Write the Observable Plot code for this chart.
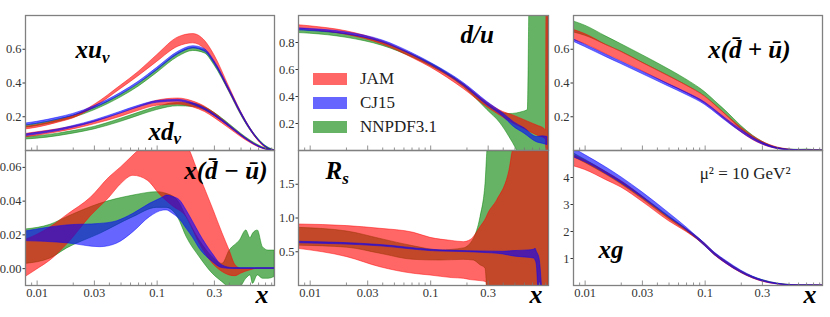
<!DOCTYPE html>
<html><head><meta charset="utf-8">
<script src="https://cdn.jsdelivr.net/npm/d3@7"></script>
<script src="https://cdn.jsdelivr.net/npm/@observablehq/plot@0.6"></script>
<style>
body{margin:0;background:#fff;}
#fig{position:relative;width:830px;height:317px;overflow:hidden;font-family:"Liberation Serif",serif;}
#fig svg{position:absolute;overflow:visible;}
.legend{position:absolute;left:313px;top:67px;font-family:"Liberation Serif",serif;font-size:17px;color:#222;}
.legend div{height:24px;display:flex;align-items:center;}
.legend span.sw{display:inline-block;width:34px;height:12px;margin-right:13px;}
</style></head><body><div id="fig"></div>
<script>
// ---------- shared axes ----------
const xDomain = [0.008, 0.95];
const xTickVals = [0.01, 0.03, 0.1, 0.3];
const xMinorVals = [0.008, 0.009, 0.02, 0.04, 0.05, 0.06, 0.07, 0.08, 0.09, 0.2, 0.4, 0.5, 0.6, 0.7, 0.8, 0.9];
const seriesNames = ["JAM", "CJ15", "NNPDF3.1"];
const seriesColors = ["#ff0000", "#0000ff", "#008000"];

// ---------- xu_v  [x, lo, hi] ----------
const jamUv = [[0.008,0.125,0.14],[0.01,0.135,0.15],[0.015,0.165,0.178],[0.02,0.19,0.203],[0.03,0.255,0.27],[0.05,0.365,0.385],[0.07,0.44,0.465],[0.1,0.525,0.565],[0.15,0.615,0.67],[0.2,0.635,0.69],[0.25,0.6,0.65],[0.3,0.525,0.565],[0.4,0.35,0.375],[0.5,0.215,0.23],[0.6,0.12,0.13],[0.7,0.055,0.062],[0.8,0.016,0.022],[0.9,0.002,0.004],[0.95,0,0.001]];
const cjUv = [[0.008,0.148,0.16],[0.01,0.158,0.17],[0.015,0.183,0.195],[0.02,0.205,0.217],[0.03,0.25,0.262],[0.05,0.33,0.342],[0.07,0.395,0.407],[0.1,0.475,0.49],[0.15,0.57,0.585],[0.2,0.605,0.618],[0.25,0.585,0.6],[0.3,0.515,0.53],[0.4,0.35,0.365],[0.5,0.215,0.228],[0.6,0.12,0.13],[0.7,0.058,0.065],[0.8,0.02,0.025],[0.9,0.003,0.005],[0.95,0,0.001]];
const nnUv = [[0.008,0.135,0.148],[0.01,0.145,0.158],[0.015,0.17,0.183],[0.02,0.193,0.206],[0.03,0.238,0.252],[0.05,0.315,0.33],[0.07,0.378,0.394],[0.1,0.46,0.478],[0.15,0.555,0.575],[0.2,0.59,0.608],[0.25,0.575,0.592],[0.3,0.505,0.522],[0.4,0.345,0.36],[0.5,0.21,0.225],[0.6,0.118,0.13],[0.7,0.058,0.068],[0.8,0.021,0.028],[0.9,0.004,0.008],[0.95,0,0.002]];
// ---------- xd_v ----------
const jamDv = [[0.008,0.078,0.098],[0.01,0.088,0.108],[0.015,0.108,0.126],[0.02,0.125,0.142],[0.03,0.155,0.172],[0.05,0.2,0.22],[0.07,0.235,0.258],[0.1,0.265,0.295],[0.15,0.272,0.308],[0.2,0.255,0.29],[0.25,0.228,0.26],[0.3,0.193,0.222],[0.4,0.13,0.15],[0.5,0.08,0.094],[0.6,0.044,0.053],[0.7,0.019,0.025],[0.8,0.005,0.008],[0.9,0,0.002],[0.95,0,0.001]];
const cjDv = [[0.008,0.085,0.095],[0.01,0.095,0.105],[0.015,0.115,0.125],[0.02,0.135,0.145],[0.03,0.168,0.178],[0.05,0.22,0.23],[0.07,0.255,0.265],[0.1,0.283,0.293],[0.15,0.29,0.3],[0.2,0.27,0.28],[0.25,0.24,0.25],[0.3,0.205,0.215],[0.4,0.14,0.15],[0.5,0.087,0.095],[0.6,0.048,0.054],[0.7,0.021,0.026],[0.8,0.006,0.009],[0.9,0,0.002],[0.95,0,0.001]];
const nnDv = [[0.008,0.065,0.08],[0.01,0.07,0.085],[0.015,0.085,0.1],[0.02,0.1,0.115],[0.03,0.125,0.14],[0.05,0.17,0.188],[0.07,0.205,0.223],[0.1,0.24,0.258],[0.15,0.262,0.282],[0.2,0.258,0.278],[0.25,0.237,0.256],[0.3,0.205,0.223],[0.4,0.142,0.156],[0.5,0.088,0.1],[0.6,0.05,0.059],[0.7,0.024,0.031],[0.8,0.008,0.013],[0.9,0.001,0.004],[0.95,0,0.001]];
// ---------- x(dbar - ubar) ----------
const jamDmU = [[0.008,-0.005,0.017],[0.01,-0.0005,0.02],[0.013,0.005,0.0246],[0.018,0.0147,0.032],[0.028,0.031,0.042],[0.04,0.042,0.054],[0.05,0.05,0.06],[0.0634,0.055,0.067],[0.084,0.052,0.075],[0.105,0.044,0.08],[0.135,0.037,0.082],[0.176,0.0305,0.074],[0.226,0.0147,0.055],[0.29,0.003,0.036],[0.35,-0.002,0.021],[0.4,-0.004,0.011],[0.45,-0.0045,0.002],[0.5,-0.003,0],[0.6,-0.001,0],[0.7,0,0],[0.95,0,0]];
const cjDmU = [[0.008,0.0163,0.022],[0.0178,0.015,0.0256],[0.0335,0.0127,0.0265],[0.046,0.0147,0.028],[0.0634,0.0216,0.0325],[0.087,0.0305,0.0384],[0.113,0.0344,0.0423],[0.12,0.0345,0.0433],[0.135,0.0325,0.0425],[0.155,0.029,0.0404],[0.176,0.0236,0.0344],[0.2,0.018,0.0275],[0.226,0.0118,0.0206],[0.29,0.004,0.0088],[0.35,0.0003,0.0019],[0.43,-0.0002,0.0003],[0.95,-0.0002,0.0003]];
const nnDmU = [[0.008,0.0028,0.0232],[0.0129,0.006,0.026],[0.0178,0.012,0.0305],[0.0335,0.0206,0.0384],[0.0634,0.0305,0.0433],[0.1,0.036,0.0453],[0.12,0.036,0.0443],[0.15,0.03,0.04],[0.176,0.0187,0.0305],[0.226,0.0068,0.0167],[0.29,-0.003,0.0068],[0.35,-0.008,0.0028],[0.402,-0.011,0.0107],[0.49,-0.011,0.0167],[0.553,-0.006,0.0226],[0.6,-0.004,0.018],[0.628,-0.009,0.0206],[0.69,-0.004,0.0226],[0.76,-0.006,0.0127],[0.85,-0.006,0.0107],[0.95,-0.005,0.0107]];
// ---------- d/u ----------
const jamDoU = [[0.008,0.9,0.928],[0.01,0.893,0.92],[0.02,0.857,0.883],[0.04,0.785,0.808],[0.0725,0.68,0.705],[0.1,0.615,0.638],[0.188,0.455,0.49],[0.295,0.32,0.355],[0.4,0.245,0.285],[0.49,0.198,0.258],[0.6,0.16,0.225],[0.765,0.111,0.185],[0.88,0.09,0.16],[0.905,0.08,0.15],[0.915,-0.1,1.1],[0.95,-0.1,1.1]];
const cjDoU = [[0.008,0.89,0.905],[0.01,0.885,0.9],[0.02,0.86,0.875],[0.04,0.8,0.815],[0.0725,0.7,0.715],[0.1,0.635,0.65],[0.188,0.48,0.5],[0.295,0.335,0.36],[0.4,0.25,0.275],[0.49,0.175,0.21],[0.6,0.125,0.165],[0.765,0.06,0.1],[0.85,0.05,0.105],[0.93,0.04,0.1]];
const nnDoU = [[0.008,0.87,0.895],[0.01,0.865,0.888],[0.02,0.835,0.86],[0.04,0.775,0.8],[0.0725,0.685,0.705],[0.1,0.625,0.645],[0.188,0.47,0.49],[0.295,0.3,0.345],[0.38,0.2,0.285],[0.45,0.1,0.27],[0.52,0,0.275],[0.58,-0.1,0.285],[0.64,-0.1,0.3],[0.665,-0.1,1.2],[0.95,-0.1,1.2]];
// ---------- R_s ----------
const jamRs = [[0.008,0.543,0.904],[0.0203,0.42,0.88],[0.0383,0.27,0.84],[0.0725,0.173,0.78],[0.0996,0.148,0.706],[0.15,0.11,0.66],[0.188,0.1,0.642],[0.215,0.08,0.674],[0.259,0.065,0.864],[0.29,0.05,1.0],[0.3,-0.2,1.06],[0.356,-0.2,1.26],[0.45,-0.2,1.7],[0.49,-0.2,2.05],[0.95,-0.2,2.5]];
const cjRs = [[0.008,0.625,0.648],[0.0383,0.58,0.6],[0.0996,0.51,0.53],[0.26,0.485,0.505],[0.4,0.46,0.5],[0.49,0.43,0.51],[0.65,0.41,0.52],[0.72,0.4,0.53],[0.742,0.37,0.545],[0.76,0.3,0.5],[0.8,-0.3,0.4],[0.845,-0.3,-0.1]];
const nnRs = [[0.008,0.59,0.854],[0.0203,0.56,0.8],[0.0383,0.47,0.69],[0.0725,0.38,0.58],[0.12,0.37,0.52],[0.188,0.38,0.55],[0.228,0.37,0.69],[0.259,0.3,1.01],[0.285,0.25,1.5],[0.3,-0.2,2.1],[0.95,-0.2,2.5]];
// ---------- x(dbar + ubar) ----------
const jamDpU = [[0.008,0.655,0.715],[0.01,0.63,0.69],[0.015,0.57,0.625],[0.02,0.53,0.585],[0.03,0.47,0.52],[0.05,0.39,0.44],[0.07,0.34,0.385],[0.1,0.278,0.318],[0.13,0.215,0.25],[0.15,0.178,0.21],[0.2,0.108,0.135],[0.25,0.062,0.085],[0.3,0.035,0.052],[0.4,0.009,0.018],[0.5,0.002,0.006],[0.6,0,0.001],[0.95,0,0]];
const cjDpU = [[0.008,0.645,0.659],[0.01,0.613,0.627],[0.015,0.553,0.567],[0.02,0.512,0.526],[0.03,0.453,0.467],[0.05,0.378,0.392],[0.07,0.329,0.343],[0.1,0.27,0.284],[0.13,0.208,0.222],[0.15,0.173,0.187],[0.2,0.108,0.122],[0.25,0.064,0.076],[0.3,0.036,0.046],[0.4,0.009,0.015],[0.5,0.001,0.005],[0.6,0,0.002],[0.95,0,0]];
const nnDpU = [[0.008,0.7,0.765],[0.01,0.68,0.74],[0.015,0.625,0.675],[0.02,0.585,0.63],[0.03,0.52,0.565],[0.05,0.44,0.48],[0.07,0.385,0.42],[0.1,0.32,0.345],[0.13,0.25,0.272],[0.15,0.21,0.232],[0.2,0.125,0.145],[0.25,0.072,0.088],[0.3,0.042,0.052],[0.4,0.01,0.016],[0.5,0.002,0.006],[0.6,0,0.004],[0.7,0.001,0.006],[0.8,0,0.003],[0.95,0,0.001]];
// ---------- xg ----------
const jamG = [[0.008,4.42,4.82],[0.01,4.28,4.63],[0.015,3.9,4.2],[0.02,3.63,3.87],[0.03,3.1,3.3],[0.05,2.38,2.52],[0.07,1.98,2.08],[0.085,1.72,1.8],[0.1,1.46,1.54],[0.12,1.12,1.2],[0.15,0.8,0.88],[0.2,0.46,0.52],[0.25,0.26,0.31],[0.3,0.14,0.18],[0.4,0.04,0.06],[0.5,0.008,0.016],[0.6,0,0.004],[0.95,0,0]];
const cjG = [[0.008,4.75,5.08],[0.01,4.57,4.83],[0.015,4.13,4.37],[0.02,3.79,4.01],[0.03,3.25,3.45],[0.05,2.52,2.68],[0.07,2.05,2.15],[0.085,1.74,1.82],[0.1,1.45,1.55],[0.12,1.13,1.22],[0.15,0.81,0.91],[0.2,0.47,0.55],[0.25,0.27,0.33],[0.3,0.15,0.2],[0.4,0.04,0.07],[0.5,0.01,0.02],[0.6,0,0.005],[0.95,0,0]];
const nnG = [[0.008,4.76,4.9],[0.01,4.54,4.66],[0.015,4.1,4.2],[0.02,3.75,3.85],[0.03,3.2,3.3],[0.05,2.46,2.56],[0.07,2.01,2.09],[0.085,1.73,1.81],[0.1,1.46,1.54],[0.12,1.13,1.2],[0.15,0.82,0.88],[0.2,0.47,0.53],[0.25,0.27,0.32],[0.3,0.16,0.2],[0.4,0.05,0.07],[0.5,0.012,0.025],[0.6,0.001,0.006],[0.95,0,0]];

// ---------- layout ----------
const colL = [25, 298, 573], colR = [274, 548, 822];
const rowT = [15, 150], rowB = [150, 285];
const mathFont = "Liberation Serif";
const tickFont = "Liberation Serif";

function label(text, o) {
  return Plot.text([text], {text: d => d, fontFamily: mathFont, fontWeight: "bold", fontStyle: "italic",
    fontSize: 25, lineAnchor: "bottom", fill: "#000", ...o});
}

function panel(col, row, sets, yDomain, yTicks, yFmt, labels) {
  const mL = 40, mR = 10, mT = 5, mB = 30;
  const W = colR[col] - colL[col], H = rowB[row] - rowT[row];
  const showX = row === 1;
  const chart = Plot.plot({
    width: W + mL + mR, height: H + mT + mB,
    marginLeft: mL, marginRight: mR, marginTop: mT, marginBottom: mB,
    style: {background: "transparent", overflow: "visible", fontFamily: tickFont, fontSize: "12.5px", color: "#333"},
    x: {type: "log", domain: xDomain, ticks: xTickVals, tickFormat: d => String(d), tickSize: 0, tickPadding: 3, axis: showX ? "bottom" : null, label: null},
    y: {domain: yDomain, ticks: yTicks, tickFormat: yFmt, tickSize: 2.5, tickPadding: 1.5, label: null},
    marks: [
      ...sets.map(([data, color]) => Plot.areaY(data, {x: d => d[0], y1: d => d[1], y2: d => d[2],
        fill: color, fillOpacity: 0.6, stroke: color, strokeOpacity: 0.6, strokeWidth: 0.8,
        curve: "monotone-x", clip: true})),
      Plot.tickX(xMinorVals, {x: d => d, insetTop: H - 2.5, stroke: "#777", strokeWidth: 0.8}),
      Plot.tickX(xTickVals, {x: d => d, insetTop: H - 4.5, stroke: "#777", strokeWidth: 0.8}),
      Plot.frame({stroke: "#808080", strokeWidth: 1.3}),
      ...labels
    ]
  });
  chart.style.left = (colL[col] - mL) + "px";
  chart.style.top = (rowT[row] - mT) + "px";
  // subscripts written as a_b
  chart.querySelectorAll("text").forEach(t => {
    const s = t.textContent;
    if (!s.includes("_")) return;
    const [main, sub] = s.split("_");
    while (t.firstChild) t.removeChild(t.firstChild);
    const ns = "http://www.w3.org/2000/svg";
    const a = document.createElementNS(ns, "tspan"); a.textContent = main; t.appendChild(a);
    const b = document.createElementNS(ns, "tspan"); b.textContent = sub;
    b.setAttribute("dy", "0.28em"); b.setAttribute("font-size", "0.68em"); t.appendChild(b);
  });
  document.getElementById("fig").appendChild(chart);
}

const xLabel = () => label("x", {frameAnchor: "bottom-right", textAnchor: "end", dx: -6, dy: 17, fontSize: 26});
const [R, B, G] = seriesColors;

panel(0, 0, [[nnUv, G], [jamUv, R], [cjUv, B], [nnDv, G], [jamDv, R], [cjDv, B]], [0, 0.8], [0.2, 0.4, 0.6], d3.format(".1f"),
  [label("xu_v", {frameAnchor: "top-left", dx: 50, dy: 42.5}), label("xd_v", {frameAnchor: "top-left", dx: 123, dy: 124})]);
panel(0, 1, [[nnDmU, G], [jamDmU, R], [cjDmU, B]], [-0.01, 0.07], [0, 0.02, 0.04, 0.06], d3.format(".2f"),
  [label("x(d\u0304 \u2212 u\u0304)", {frameAnchor: "top-right", textAnchor: "end", dx: -7, dy: 28}), xLabel()]);
panel(1, 0, [[nnDoU, G], [jamDoU, R], [cjDoU, B]], [0, 1.0], [0.2, 0.4, 0.6, 0.8], d3.format(".1f"),
  [label("d/u", {frameAnchor: "top-left", dx: 162, dy: 27.7})]);
panel(1, 1, [[nnRs, G], [jamRs, R], [cjRs, B]], [0, 2.0], [0.5, 1.0, 1.5], d3.format(".1f"),
  [label("R_s", {frameAnchor: "top-left", dx: 27, dy: 28.3}), xLabel()]);
panel(2, 0, [[nnDpU, G], [jamDpU, R], [cjDpU, B]], [0, 0.8], [0.2, 0.4, 0.6], d3.format(".1f"),
  [label("x(d\u0304 + u\u0304)", {frameAnchor: "top-right", textAnchor: "end", dx: -32, dy: 42.3})]);
panel(2, 1, [[nnG, G], [jamG, R], [cjG, B]], [0, 5], [1, 2, 3, 4], d3.format("d"),
  [label("\u03bc\u00b2 = 10 GeV\u00b2", {frameAnchor: "top-right", textAnchor: "end", dx: -32, dy: 28.3, fontFamily: tickFont, fontWeight: "normal", fontStyle: "normal", fontSize: 17, fill: "#222"}),
   label("xg", {frameAnchor: "top-left", dx: 25, dy: 107.3}), xLabel()]);

// legend in the d/u panel
const leg = document.createElement("div");
leg.className = "legend";
const swatch = ["#ff6666", "#6666ff", "#66b366"];
seriesNames.forEach((n, i) => {
  const row = document.createElement("div");
  const sw = document.createElement("span"); sw.className = "sw"; sw.style.background = swatch[i];
  row.appendChild(sw); row.appendChild(document.createTextNode(n));
  leg.appendChild(row);
});
document.getElementById("fig").appendChild(leg);
</script></body></html>
